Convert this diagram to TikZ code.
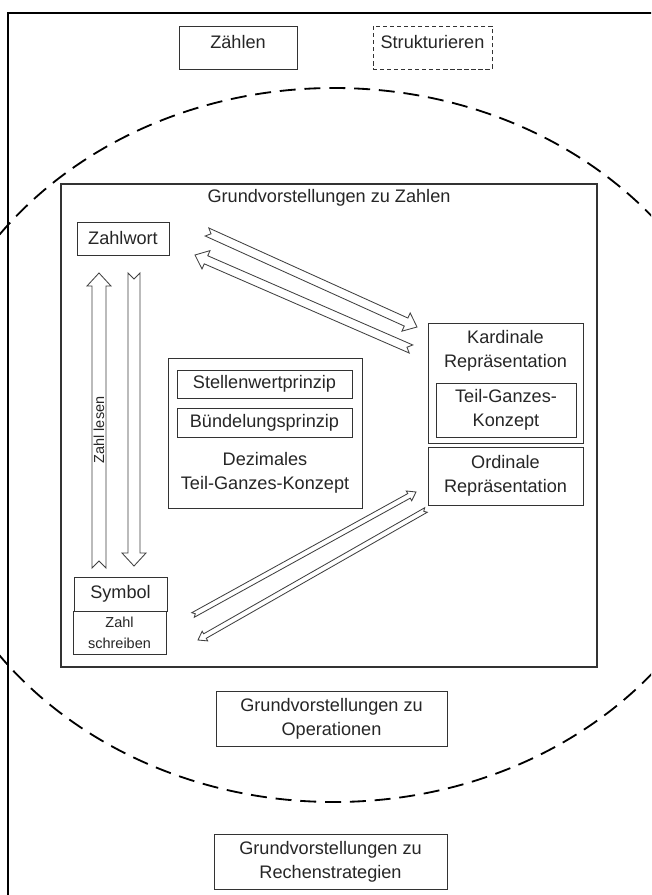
\documentclass[tikz,border=0pt]{standalone}
\usepackage{fontspec}
\setmainfont{Liberation Sans}
\usetikzlibrary{calc}

\newcommand{\gvfont}{\fontsize{12.9}{17}\selectfont}
\newcommand{\gvsmall}{\fontsize{10.3}{14.9}\selectfont}

% hollow block arrow: [style]{tail}{tip}{half shaft}{half head}{head length}
\newcommand{\hollowarrow}[6][]{%
  \coordinate (hb) at ($(#3)!#6!(#2)$);
  \coordinate (nt) at ($(#2)!#4!(#3)$);
  \draw[hollow,#1] ($(#2)!#4!90:(#3)$) -- ($(hb)!#4!90:(#3)$)
    -- ($(hb)!#5!90:(#3)$) -- (#3) -- ($(hb)!#5!-90:(#3)$)
    -- ($(hb)!#4!-90:(#3)$) -- ($(#2)!#4!-90:(#3)$) -- (nt) -- cycle;
}

\begin{document}
\begin{tikzpicture}[
    box/.style={
        draw=black!80, line width=0.6pt, text=black!85,
        font=\gvfont, align=center, inner sep=0pt
    },
    topbox/.style={box, text height=0.56cm, text depth=0.515cm},
    txt/.style={text=black!85, font=\gvfont, align=center, inner sep=0pt},
    smalltext/.style={font=\gvsmall},
    hollow/.style={draw=black!75, line width=0.6pt, fill=white, line join=miter},
    ring/.style={dash pattern=on 0.4cm off 0.22cm, line width=1.3pt}
]
    \clip (0,0) rectangle (16.275,-22.375);
    \fill[white] (0,0) rectangle (16.275,-22.375);

    % Outer frame and dashed ring
    \draw[line width=1.4pt] (0.2,-24) rectangle (17,-0.325);
    \draw[ring] (8.35,-11.125) ellipse [x radius=10.35cm, y radius=8.925cm];

    % Top row
    \node[topbox, minimum width=2.95cm, minimum height=1.075cm]
        (zaehlen) at (5.95,-1.1875) {Zählen};
    \node[topbox, dash pattern=on 3pt off 2pt,
          minimum width=2.975cm, minimum height=1.075cm]
        (struk) at (10.8125,-1.1875) {Strukturieren};

    % Grundvorstellungen zu Zahlen
    \node[box, line width=0.8pt, minimum width=13.4cm, minimum height=12.075cm]
        (gvz) at (8.225,-10.6375) {};
    \node[txt] (gvztitle) at (8.225,-4.95) {Grundvorstellungen zu Zahlen};

    \node[box, minimum width=2.3cm, minimum height=0.825cm]
        (zahlwort) at (3.075,-5.9625) {Zahlwort};

    % Cardinal and ordinal
    \node[box, minimum width=3.875cm, minimum height=3cm] (kard) at (12.6375,-9.575) {};
    \node[txt] (kardtxt) at (12.6375,-8.775) {Kardinale\\Repräsentation};
    \node[box, minimum width=3.5cm, minimum height=1.35cm]
        (teil) at (12.65,-10.25) {Teil-Ganzes-\\Konzept};
    \node[box, minimum width=3.875cm, minimum height=1.45cm]
        (ordinal) at (12.6375,-11.9) {Ordinale\\Repräsentation};

    % Decimal concept
    \node[box, minimum width=4.85cm, minimum height=3.75cm] (dezimal) at (6.625,-10.825) {};
    \node[box, minimum width=4.375cm, minimum height=0.7cm]
        (stellen) at (6.6125,-9.6) {Stellenwertprinzip};
    \node[box, minimum width=4.375cm, minimum height=0.725cm]
        (buendel) at (6.6125,-10.5625) {Bündelungsprinzip};
    \node[txt] (deztxt) at (6.625,-11.8125) {Dezimales\\Teil-Ganzes-Konzept};

    % Symbol
    \node[box, minimum width=2.325cm, minimum height=0.85cm]
        (symbol) at (3.0125,-14.85) {Symbol};
    \node[box, smalltext, minimum width=2.325cm, minimum height=1.075cm]
        (schreiben) at (2.9875,-15.8125) {Zahl\\schreiben};

    % Lower boxes
    \node[box, minimum width=5.775cm, minimum height=1.375cm]
        (oper) at (8.2875,-17.9625) {Grundvorstellungen zu\\Operationen};
    \node[box, minimum width=5.825cm, minimum height=1.375cm]
        (rechen) at (8.2625,-21.5375) {Grundvorstellungen zu\\Rechenstrategien};

    % Arrow ends
    \coordinate (lesenA) at (2.475,-14.2);
    \coordinate (lesenB) at (2.475,-6.825);
    \coordinate (schrA) at (3.35,-6.825);
    \coordinate (schrB) at (3.35,-14.15);
    \coordinate (kardA) at (5.175,-5.8);
    \coordinate (kardB) at (10.425,-8.175);
    \coordinate (wortA) at (10.275,-8.725);
    \coordinate (wortB) at (4.875,-6.375);
    \coordinate (ordA) at (4.825,-15.375);
    \coordinate (ordB) at (10.4,-12.3);
    \coordinate (symA) at (10.65,-12.75);
    \coordinate (symB) at (4.95,-16.0);

    % Block arrows
    \hollowarrow{lesenA}{lesenB}{0.175cm}{0.3cm}{0.325cm}
    \hollowarrow{schrA}{schrB}{0.15cm}{0.3cm}{0.325cm}
    \hollowarrow{kardA}{kardB}{0.11cm}{0.25cm}{0.3cm}
    \hollowarrow{wortA}{wortB}{0.11cm}{0.25cm}{0.3cm}
    \hollowarrow{ordA}{ordB}{0.065cm}{0.14cm}{0.2cm}
    \hollowarrow{symA}{symB}{0.065cm}{0.14cm}{0.2cm}

    \node[txt, smalltext, rotate=90] (lesen) at (2.475,-10.75) {Zahl lesen};
\end{tikzpicture}
\end{document}
